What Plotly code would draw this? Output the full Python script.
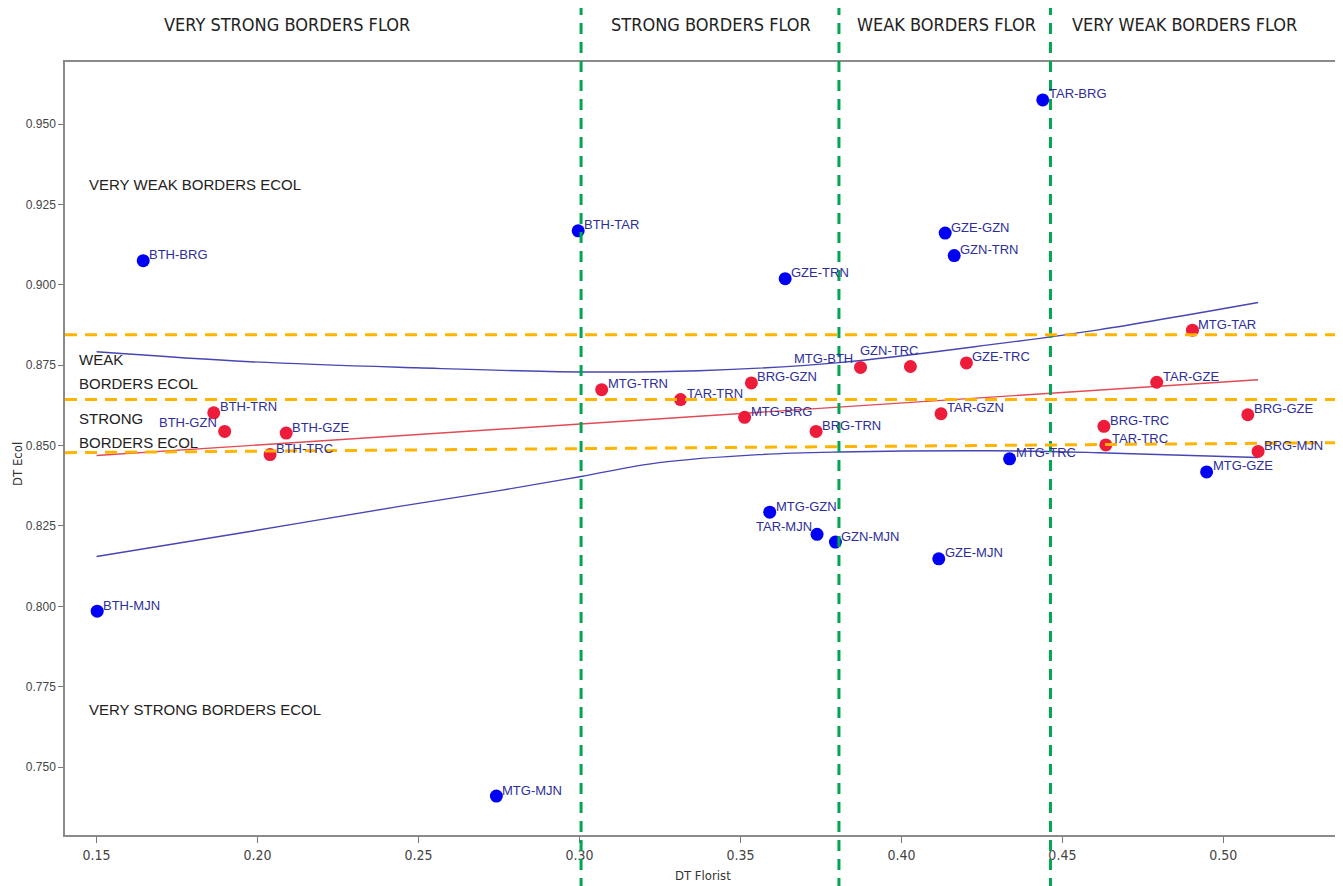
import plotly.graph_objects as go

# ---------------- data ----------------
blue_names = ["TAR-BRG", "BTH-TAR", "BTH-BRG", "GZE-TRN", "GZE-GZN", "GZN-TRN",
              "MTG-TRC", "MTG-GZE", "MTG-GZN", "TAR-MJN", "GZN-MJN", "GZE-MJN",
              "BTH-MJN", "MTG-MJN"]
blue_x = [0.4439, 0.2996, 0.1645, 0.3639, 0.4136, 0.4164,
          0.4336, 0.4948, 0.3591, 0.3738, 0.3795, 0.4116,
          0.1502, 0.2742]
blue_y = [0.9575, 0.9168, 0.9075, 0.9019, 0.9161, 0.9091,
          0.8459, 0.8418, 0.8293, 0.8224, 0.8200, 0.8148,
          0.7985, 0.7410]

red_names = ["BTH-TRN", "BTH-GZN", "BTH-GZE", "BTH-TRC", "MTG-TRN", "TAR-TRN",
             "BRG-GZN", "MTG-BRG", "BRG-TRN", "MTG-BTH", "GZN-TRC", "GZE-TRC",
             "TAR-GZN", "MTG-TAR", "TAR-GZE", "BRG-GZE", "BRG-TRC", "TAR-TRC",
             "BRG-MJN"]
red_x = [0.1864, 0.1898, 0.2089, 0.2039, 0.3069, 0.3314,
         0.3534, 0.3513, 0.3735, 0.3873, 0.4028, 0.4202,
         0.4123, 0.4904, 0.4793, 0.5076, 0.4629, 0.4635,
         0.5108]
red_y = [0.8602, 0.8544, 0.8539, 0.8472, 0.8674, 0.8643,
         0.8695, 0.8588, 0.8544, 0.8743, 0.8746, 0.8757,
         0.8599, 0.8859, 0.8697, 0.8596, 0.8560, 0.8502,
         0.8482]

# fitted line and band
fit_x = [0.1500, 0.5108]
fit_y = [0.8469, 0.8705]
upper_x = [0.1500, 0.1976, 0.2494, 0.3005, 0.3371, 0.3806, 0.4302, 0.4612, 0.5108]
upper_y = [0.8792, 0.8761, 0.8742, 0.8729, 0.8733, 0.8758, 0.8817, 0.8860, 0.8945]
lower_x = [0.1500, 0.1976, 0.2441, 0.2751, 0.3005, 0.3247, 0.3557, 0.3806, 0.4280, 0.4612, 0.5108]
lower_y = [0.8155, 0.8233, 0.8311, 0.8360, 0.8404, 0.8447, 0.8472, 0.8480, 0.8484, 0.8478, 0.8463]

# border thresholds
flor_breaks = [0.3005, 0.3806, 0.4463]
ecol_breaks = [(0.8845, 0.8845), (0.8643, 0.8643), (0.8478, 0.8509)]

flor_zone_labels = ["VERY STRONG BORDERS FLOR", "STRONG BORDERS FLOR",
                    "WEAK BORDERS FLOR", "VERY WEAK BORDERS FLOR"]
flor_zone_x = [0.2093, 0.3410, 0.4140, 0.4880]

x_ticks = [0.15, 0.20, 0.25, 0.30, 0.35, 0.40, 0.45, 0.50]
y_ticks = [0.750, 0.775, 0.800, 0.825, 0.850, 0.875, 0.900, 0.925, 0.950]

X_RANGE = [0.1402, 0.5353]
Y_RANGE = [0.7289, 0.9693]

# ---------------- styling ----------------
LABEL_COLOR = "#2e2e99"
BLUE = "#0000f5"
RED = "#ec1c3a"
NARROW = "DejaVu Sans Condensed, Liberation Sans Narrow, Arial Narrow, sans-serif"
ARIAL = "Arial, Liberation Sans, sans-serif"

# default label offset: to the right and slightly above the marker
default_off = dict(xanchor="left", xshift=4, yshift=6)
special_off = {
    "BTH-GZN": dict(xanchor="right", xshift=-6, yshift=9),
    "TAR-MJN": dict(xanchor="right", xshift=-3, yshift=8),
    "MTG-BTH": dict(xanchor="right", xshift=-6, yshift=9),
    "GZN-TRC": dict(xanchor="right", xshift=11, yshift=16),
}

fig = go.Figure()

# confidence band and fit
fig.add_trace(go.Scatter(x=upper_x, y=upper_y, mode="lines", line=dict(color="#4646b4", width=1.4, shape="spline"),
                         hoverinfo="skip", showlegend=False))
fig.add_trace(go.Scatter(x=lower_x, y=lower_y, mode="lines", line=dict(color="#4646b4", width=1.4, shape="spline"),
                         hoverinfo="skip", showlegend=False))
fig.add_trace(go.Scatter(x=fit_x, y=fit_y, mode="lines", line=dict(color="#e24a55", width=1.4),
                         hoverinfo="skip", showlegend=False))

# points
fig.add_trace(go.Scatter(x=blue_x, y=blue_y, mode="markers", text=blue_names,
                         marker=dict(color=BLUE, size=13, line=dict(width=0)), showlegend=False))
fig.add_trace(go.Scatter(x=red_x, y=red_y, mode="markers", text=red_names,
                         marker=dict(color=RED, size=13, line=dict(width=0)), showlegend=False))

annotations = []
for names, xs, ys in ((blue_names, blue_x, blue_y), (red_names, red_x, red_y)):
    for n, xv, yv in zip(names, xs, ys):
        off = special_off.get(n, default_off)
        annotations.append(dict(x=xv, y=yv, xref="x", yref="y", text=n, showarrow=False,
                                yanchor="middle", font=dict(family=ARIAL, size=13, color=LABEL_COLOR),
                                **off))

span = X_RANGE[1] - X_RANGE[0]
shapes = []
# green vertical flor borders (extend beyond plot area)
for b in flor_breaks:
    px = (b - X_RANGE[0]) / span
    shapes.append(dict(type="line", xref="paper", yref="paper", x0=px, x1=px, y0=-0.07, y1=1.09,
                       line=dict(color="#00a651", width=3, dash="11px,8px"), layer="above"))
# orange horizontal ecol borders
for y0, y1 in ecol_breaks:
    shapes.append(dict(type="line", xref="paper", yref="y", x0=0, x1=1, y0=y0, y1=y1,
                       line=dict(color="#ffb400", width=3, dash="12px,8px"), layer="above"))

# zone labels on top
for t, xv in zip(flor_zone_labels, flor_zone_x):
    annotations.append(dict(x=xv, y=1.048, xref="x", yref="paper", text=t, showarrow=False,
                            xanchor="center", yanchor="middle",
                            font=dict(family=NARROW, size=18, color="#222222")))

# ecol zone labels (left)
ecol_texts = [("VERY WEAK BORDERS ECOL", 0.0173, 0.8409),
              ("WEAK", 0.0094, 0.6145),
              ("BORDERS ECOL", 0.0094, 0.5847),
              ("STRONG", 0.0094, 0.5394),
              ("BORDERS ECOL", 0.0094, 0.5084),
              ("VERY STRONG BORDERS ECOL", 0.0173, 0.1630)]
for t, xp, yp in ecol_texts:
    annotations.append(dict(x=xp, y=yp, xref="paper", yref="paper", text=t, showarrow=False,
                            xanchor="left", yanchor="middle",
                            font=dict(family=ARIAL, size=15, color="#222222")))

# axis titles
annotations.append(dict(x=0.5016, y=-0.053, xref="paper", yref="paper", text="DT Florist",
                        showarrow=False, xanchor="center", yanchor="middle",
                        font=dict(family=NARROW, size=13, color="#333333")))
annotations.append(dict(x=-0.037, y=0.48, xref="paper", yref="paper", text="DT Ecol",
                        showarrow=False, xanchor="center", yanchor="middle", textangle=-90,
                        font=dict(family=NARROW, size=13, color="#333333")))

# page body has an 8px margin, so the figure is sized/offset to land where the reference is
fig.update_layout(
    width=1335, height=878,
    margin=dict(l=57, r=4, t=54, b=51),
    paper_bgcolor="white", plot_bgcolor="white",
    shapes=shapes, annotations=annotations,
    hovermode="closest",
)
fig.update_xaxes(range=X_RANGE, tickvals=x_ticks, ticktext=[f"{v:.2f}" for v in x_ticks],
                 showgrid=False, zeroline=False, showline=True, mirror=True,
                 linecolor="#8a8a8a", linewidth=1.5, ticks="outside", ticklen=6,
                 tickcolor="#777777", tickfont=dict(family=NARROW, size=14, color="#444444"))
fig.update_yaxes(range=Y_RANGE, tickvals=y_ticks, ticktext=[f"{v:.3f}" for v in y_ticks],
                 showgrid=False, zeroline=False, showline=True, mirror=True,
                 linecolor="#8a8a8a", linewidth=1.5, ticks="outside", ticklen=5,
                 tickcolor="#777777", tickfont=dict(family=ARIAL, size=12, color="#444444"))

fig.write_html("out.html")
